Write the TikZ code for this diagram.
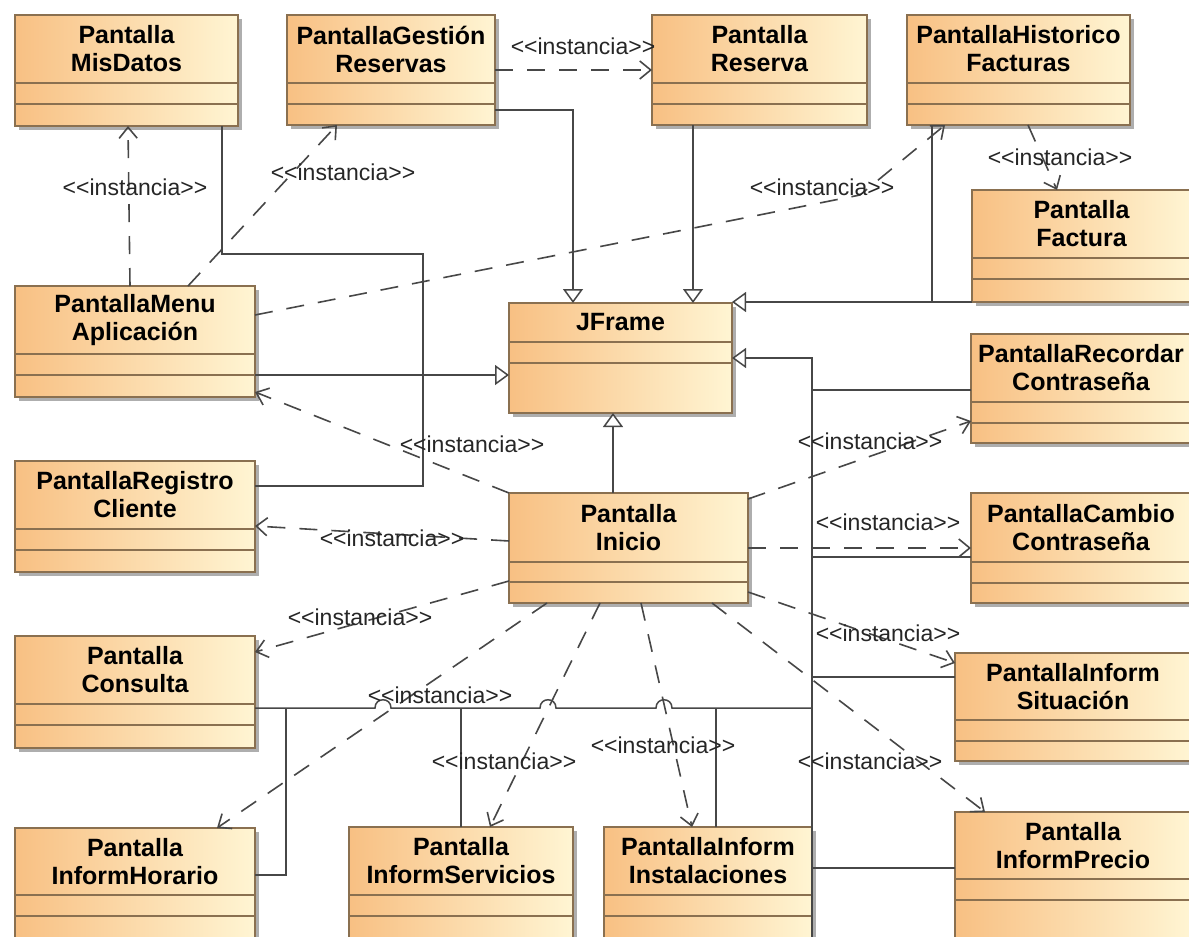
\documentclass[tikz,border=0pt]{standalone}
\usepackage{fontspec}
\setmainfont{Liberation Sans}
\usetikzlibrary{arrows.meta,shadows}

\definecolor{boxleft}{HTML}{F8C083}
\definecolor{boxright}{HTML}{FFF5D3}
\definecolor{boxline}{HTML}{8A7050}
\definecolor{wire}{HTML}{474747}

\tikzset{
  classbox/.style={draw=boxline, line width=1.2pt, left color=boxleft, right color=boxright,
    inner sep=0pt, outer sep=0pt, anchor=north west,
    drop shadow={shadow xshift=4pt, shadow yshift=-4pt, fill=black!35, opacity=0.9}},
  divider/.style={draw=boxline, line width=1.2pt},
  classtitle/.style={font=\bfseries\fontsize{25}{28}\selectfont, align=center, inner sep=0pt},
  gen/.style={draw=wire, line width=1.5pt, -{Triangle[open, length=14pt, width=20pt, fill=white]}},
  trunk/.style={draw=wire, line width=1.5pt},
  dep/.style={draw=wire, line width=1.6pt, dash pattern=on 18pt off 14pt,
    -{Straight Barb[length=11pt, width=18pt]}},
  stereo/.style={font=\fontsize{23}{27}\selectfont, inner sep=0pt, text=black!85},
}

% class box: name, x1, y1, x2, y2, first divider, second divider, title
\newcommand\umlbox[8]{%
  \node[classbox, minimum width={(#4-#2)*1pt}, minimum height={(#5-#3)*1pt}] (#1) at (#2,#3) {};
  \draw[divider] (#1.west |- 0,#6) -- (#1.east |- 0,#6);
  \draw[divider] (#1.west |- 0,#7) -- (#1.east |- 0,#7);
  \node[classtitle] (#1-title) at ({(#2+#4)/2},{(#3+#6)/2}) {#8};
}

\begin{document}
\begin{tikzpicture}[x=1pt,y=-1pt]
\useasboundingbox (0,0) rectangle (1189,937);
\fill[white] (0,0) rectangle (1189,937);
\clip (0,0) rectangle (1189,937);

% classes
\umlbox{md}{15}{15}{238}{126}{83}{104}{Pantalla\\MisDatos}
\umlbox{gr}{287}{15}{495}{125}{83}{104}{PantallaGestión\\Reservas}
\umlbox{rs}{652}{15}{867}{125}{83}{104}{Pantalla\\Reserva}
\umlbox{hf}{907}{15}{1130}{125}{83}{104}{PantallaHistorico\\Facturas}
\umlbox{fa}{972}{190}{1191}{302}{258}{279}{Pantalla\\Factura}
\umlbox{ma}{15}{286}{255}{397}{354}{375}{PantallaMenu\\Aplicación}
\umlbox{jf}{509}{303}{732}{413}{342}{363}{JFrame}
\umlbox{rc}{971}{334}{1191}{443}{402}{423}{PantallaRecordar\\Contraseña}
\umlbox{rg}{15}{461}{255}{572}{529}{550}{PantallaRegistro\\Cliente}
\umlbox{ini}{509}{493}{748}{603}{562}{582}{Pantalla\\Inicio}
\umlbox{cc}{971}{493}{1191}{603}{562}{583}{PantallaCambio\\Contraseña}
\umlbox{co}{15}{636}{255}{748}{704}{725}{Pantalla\\Consulta}
\umlbox{si}{955}{653}{1191}{761}{720}{741}{PantallaInform\\Situación}
\umlbox{ih}{15}{828}{255}{960}{895}{916}{Pantalla\\InformHorario}
\umlbox{is}{349}{827}{573}{960}{895}{916}{Pantalla\\InformServicios}
\umlbox{ii}{604}{827}{812}{960}{895}{916}{PantallaInform\\Instalaciones}
\umlbox{ip}{955}{812}{1191}{960}{879}{900}{Pantalla\\InformPrecio}

% generalizations towards JFrame
\draw[trunk] (md.south -| 222,0) -- (222,254) -- (423,254) -- (423,486) -- (rg.east |- 0,486);
\draw[gen] (ma.east |- 0,375) -- (jf.west |- 0,375);
\draw[gen] (gr.east |- 0,110) -- (573,110) -- (jf.north -| 573,0);
\draw[gen] (rs.south -| 693,0) -- (jf.north -| 693,0);
\draw[trunk] (hf.south -| 932,0) -- (932,302);
\draw[gen] (fa.south west) -- (jf.east |- fa.south west);
\draw[gen] (ini.north -| 613,0) -- (jf.south -| 613,0);
\draw[gen] (812,937) -- (812,358) -- (jf.east |- 0,358);
\draw[trunk] (rc.west |- 0,390) -- (812,390);
\draw[trunk] (cc.west |- 0,557) -- (812,557);
\draw[trunk] (si.west |- 0,677) -- (812,677);
\draw[trunk] (ip.west |- 0,868) -- (812,868);
\draw[trunk] (co.east |- 0,708) -- (375,708)
  .. controls (375,697) and (391,697) .. (391,708) -- (540,708)
  .. controls (540,697) and (556,697) .. (556,708) -- (656,708)
  .. controls (656,697) and (672,697) .. (672,708) -- (812,708);
\draw[trunk] (ih.east |- 0,875) -- (286,875) -- (286,708);
\draw[trunk] (is.north -| 461,0) -- (461,708);
\draw[trunk] (ii.north -| 716,0) -- (716,708);

% instantiation dependencies
\draw[dep] (ma.north -| 130,0) -- (md.south -| 128,0);
\draw[dep] (ma.north -| 188,0) -- (gr.south -| 337,0);
\draw[dep] (gr.east |- 0,70) -- (rs.west |- 0,70);
\draw[dep] (ma.east |- 0,315) -- (860,195) -- (hf.south -| 945,0);
\draw[dep] (hf.south -| 1028,0) -- (fa.north -| 1057,0);
\draw[dep] (ini.north west) -- ([yshift=5pt]ma.south east);
\draw[dep] (ini.west |- 0,541) -- (rg.east |- 0,526);
\draw[dep] (ini.east |- 0,499) -- (rc.west |- 0,421);
\draw[dep] (ini.east |- 0,548) -- (cc.west |- 0,548);
\draw[dep] (ini.east |- 0,592) -- (si.west |- 0,663);
\draw[dep] (ini.south -| 712,0) -- (ip.north -| 985,0);
\draw[dep] (ini.south -| 641,0) -- (ii.north -| 692,0);
\draw[dep] (ini.south -| 600,0) -- (is.north -| 490,0);
\draw[dep] (ini.south -| 547,0) -- (ih.north -| 217,0);
\draw[dep] (ini.west |- 0,581) -- (co.east |- 0,652);

% stereotype labels
\node[stereo] (l1)  at (135,187) {<{}<instancia>{}>};
\node[stereo] (l2)  at (343,172) {<{}<instancia>{}>};
\node[stereo] (l3)  at (583,46)  {<{}<instancia>{}>};
\node[stereo] (l4)  at (822,187) {<{}<instancia>{}>};
\node[stereo] (l5)  at (1060,157) {<{}<instancia>{}>};
\node[stereo] (l6)  at (472,444) {<{}<instancia>{}>};
\node[stereo] (l7)  at (392,538) {<{}<instancia>{}>};
\node[stereo] (l8)  at (870,441) {<{}<instancia>{}>};
\node[stereo] (l9)  at (888,522) {<{}<instancia>{}>};
\node[stereo] (l10) at (360,617) {<{}<instancia>{}>};
\node[stereo] (l11) at (888,633) {<{}<instancia>{}>};
\node[stereo] (l12) at (440,695) {<{}<instancia>{}>};
\node[stereo] (l13) at (663,745) {<{}<instancia>{}>};
\node[stereo] (l14) at (504,761) {<{}<instancia>{}>};
\node[stereo] (l15) at (870,761) {<{}<instancia>{}>};
\end{tikzpicture}
\end{document}
